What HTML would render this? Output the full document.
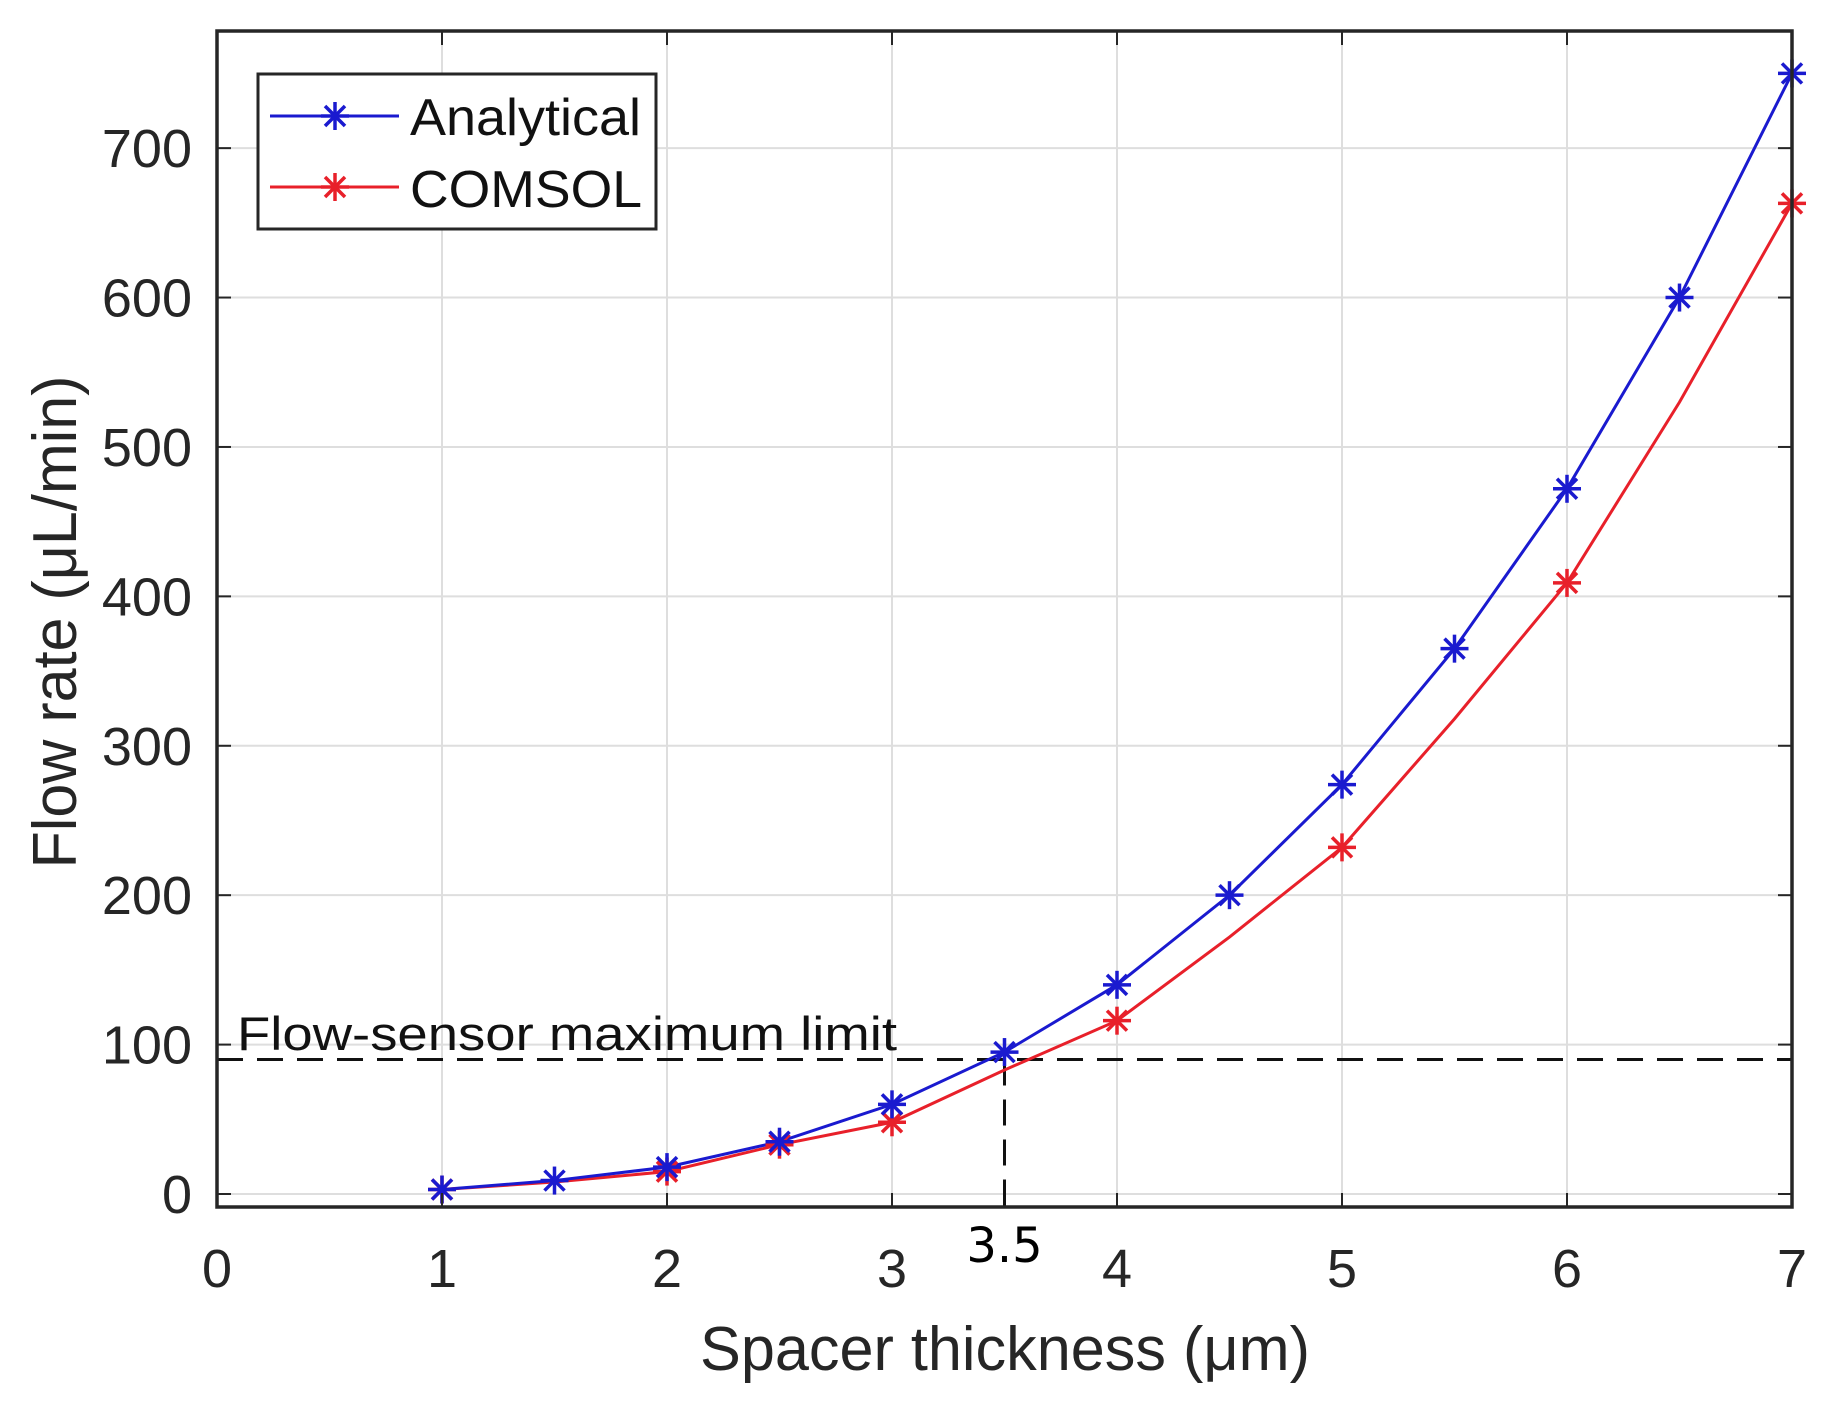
<!DOCTYPE html>
<html><head><meta charset="utf-8"><style>body{margin:0;background:#fff}svg{display:block}</style></head>
<body>
<svg id="chart" width="1837" height="1410" viewBox="0 0 1837 1410" xmlns="http://www.w3.org/2000/svg" font-family="Liberation Sans, Arial, sans-serif">
<rect width="1837" height="1410" fill="#fff"/>
<g id="grid"></g>
<g id="series"></g>
<g id="axes"></g>
</svg>
<script>
const xTicks = [0,1,2,3,4,5,6,7];
const yTicks = [0,100,200,300,400,500,600,700];
const xA = [1,1.5,2,2.5,3,3.5,4,4.5,5,5.5,6,6.5,7];
const yA = [3,9,18,35,60,95,140,200,274,365,472,600,750];
const xC = [1,1.5,2,2.5,3,3.5,4,4.5,5,5.5,6,6.5,7];
const yC = [3,8,15,33,48,83,116,172,232,318,409,530,663];
const xCMarkers = [1,2,2.5,3,4,5,6,7];
const yCMarkers = [3,15,33,48,116,232,409,663];
const limitValue = 90;
const limitX = 3.5;

const L=217,R=1792,T=31,B=1207;
const xMin=0,xMax=7,yMin=-8.7,yMax=778.4;
const sx=v=>L+(v-xMin)/(xMax-xMin)*(R-L);
const sy=v=>B-(v-yMin)/(yMax-yMin)*(B-T);
const NS='http://www.w3.org/2000/svg';
function mk(tag,attrs,parent,text){const e=document.createElementNS(NS,tag);for(const k in attrs)e.setAttribute(k,attrs[k]);if(text!==undefined)e.textContent=text;parent.appendChild(e);return e;}
const grid=document.getElementById('grid'),series=document.getElementById('series'),axes=document.getElementById('axes');

xTicks.forEach(t=>{
  const g=mk('line',{x1:sx(t),x2:sx(t),y1:T,y2:B,stroke:'#dedede','stroke-width':2},grid);
  
  
  const tk=mk('line',{x1:sx(t),x2:sx(t),y1:B,y2:B-14,stroke:'#262626','stroke-width':2},axes);
  
  
  const tk2=mk('line',{x1:sx(t),x2:sx(t),y1:T,y2:T+14,stroke:'#262626','stroke-width':2},axes);
  
  
  const lb=mk('text',{x:sx(t),y:1287,'text-anchor':'middle','font-size':54,fill:'#262626'},axes,String(t));
  
  
});
yTicks.forEach(t=>{
  const g=mk('line',{x1:L,x2:R,y1:sy(t),y2:sy(t),stroke:'#dedede','stroke-width':2},grid);
  
  
  const tk=mk('line',{x1:L,x2:L+14,y1:sy(t),y2:sy(t),stroke:'#262626','stroke-width':2},axes);
  
  
  const tk2=mk('line',{x1:R,x2:R-14,y1:sy(t),y2:sy(t),stroke:'#262626','stroke-width':2},axes);
  
  
  const lb=mk('text',{x:192,y:sy(t)+19,'text-anchor':'end','font-size':54,fill:'#262626'},axes,String(t));
  
  
});

const hl=mk('line',{x1:L,x2:R,y1:sy(limitValue),y2:sy(limitValue),stroke:'#111','stroke-width':3,'stroke-dasharray':'26,14'},series);


const vl=mk('line',{x1:sx(limitX),x2:sx(limitX),y1:sy(limitValue),y2:B,stroke:'#111','stroke-width':3,'stroke-dasharray':'26,14'},series);



function star(x,y,c,parent,name){
  const g=mk('g',{stroke:c,'stroke-width':3.5},parent);
  
  
  const r=14,d=10;
  mk('line',{x1:x-r,x2:x+r,y1:y,y2:y},g);mk('line',{x1:x,x2:x,y1:y-r,y2:y+r},g);
  mk('line',{x1:x-d,x2:x+d,y1:y-d,y2:y+d},g);mk('line',{x1:x-d,x2:x+d,y1:y+d,y2:y-d},g);
}
const pc=mk('polyline',{points:xC.map((x,i)=>sx(x)+','+sy(yC[i])).join(' '),fill:'none',stroke:'#e8202a','stroke-width':3},series);


const pa=mk('polyline',{points:xA.map((x,i)=>sx(x)+','+sy(yA[i])).join(' '),fill:'none',stroke:'#1a1acf','stroke-width':3},series);


xCMarkers.forEach((x,i)=>star(sx(x),sy(yCMarkers[i]),'#e8202a',series,'comsol-marker'));
xA.forEach((x,i)=>star(sx(x),sy(yA[i]),'#1a1acf',series,'analytical-marker'));

const box=mk('rect',{x:L,y:T,width:R-L,height:B-T,fill:'none',stroke:'#262626','stroke-width':3.5},axes);



const lt=mk('text',{x:237,y:1050,'font-size':47,fill:'#111',textLength:660,lengthAdjust:'spacingAndGlyphs'},axes,'Flow-sensor maximum limit');


const l35=mk('text',{x:sx(3.5),y:1262,'text-anchor':'middle','font-size':48,fill:'#000','font-family':'DejaVu Sans, sans-serif'},axes,'3.5');


const xt=mk('text',{x:1005,y:1370,'text-anchor':'middle','font-size':62,fill:'#262626',textLength:610,lengthAdjust:'spacingAndGlyphs'},axes,'Spacer thickness (μm)');


const yt=mk('text',{x:0,y:0,'text-anchor':'middle','font-size':62,fill:'#262626',textLength:493,lengthAdjust:'spacingAndGlyphs',transform:'translate(76,622) rotate(-90)'},axes,'Flow rate (μL/min)');



const lg=mk('g',{},axes);


mk('rect',{x:258,y:74,width:398,height:155,fill:'#fff',stroke:'#262626','stroke-width':3},lg);
const la=mk('line',{x1:270,x2:399,y1:116,y2:116,stroke:'#1a1acf','stroke-width':3},lg);


star(335,116,'#1a1acf',lg,'legend-analytical-marker');
const lc=mk('line',{x1:270,x2:399,y1:187,y2:187,stroke:'#e8202a','stroke-width':3},lg);


star(335,187,'#e8202a',lg,'legend-comsol-marker');
const ta=mk('text',{x:410,y:135,'font-size':52,fill:'#111',textLength:231,lengthAdjust:'spacingAndGlyphs'},lg,'Analytical');


const tc=mk('text',{x:410,y:207,'font-size':52,fill:'#111',textLength:232,lengthAdjust:'spacingAndGlyphs'},lg,'COMSOL');


</script>
</body></html>
